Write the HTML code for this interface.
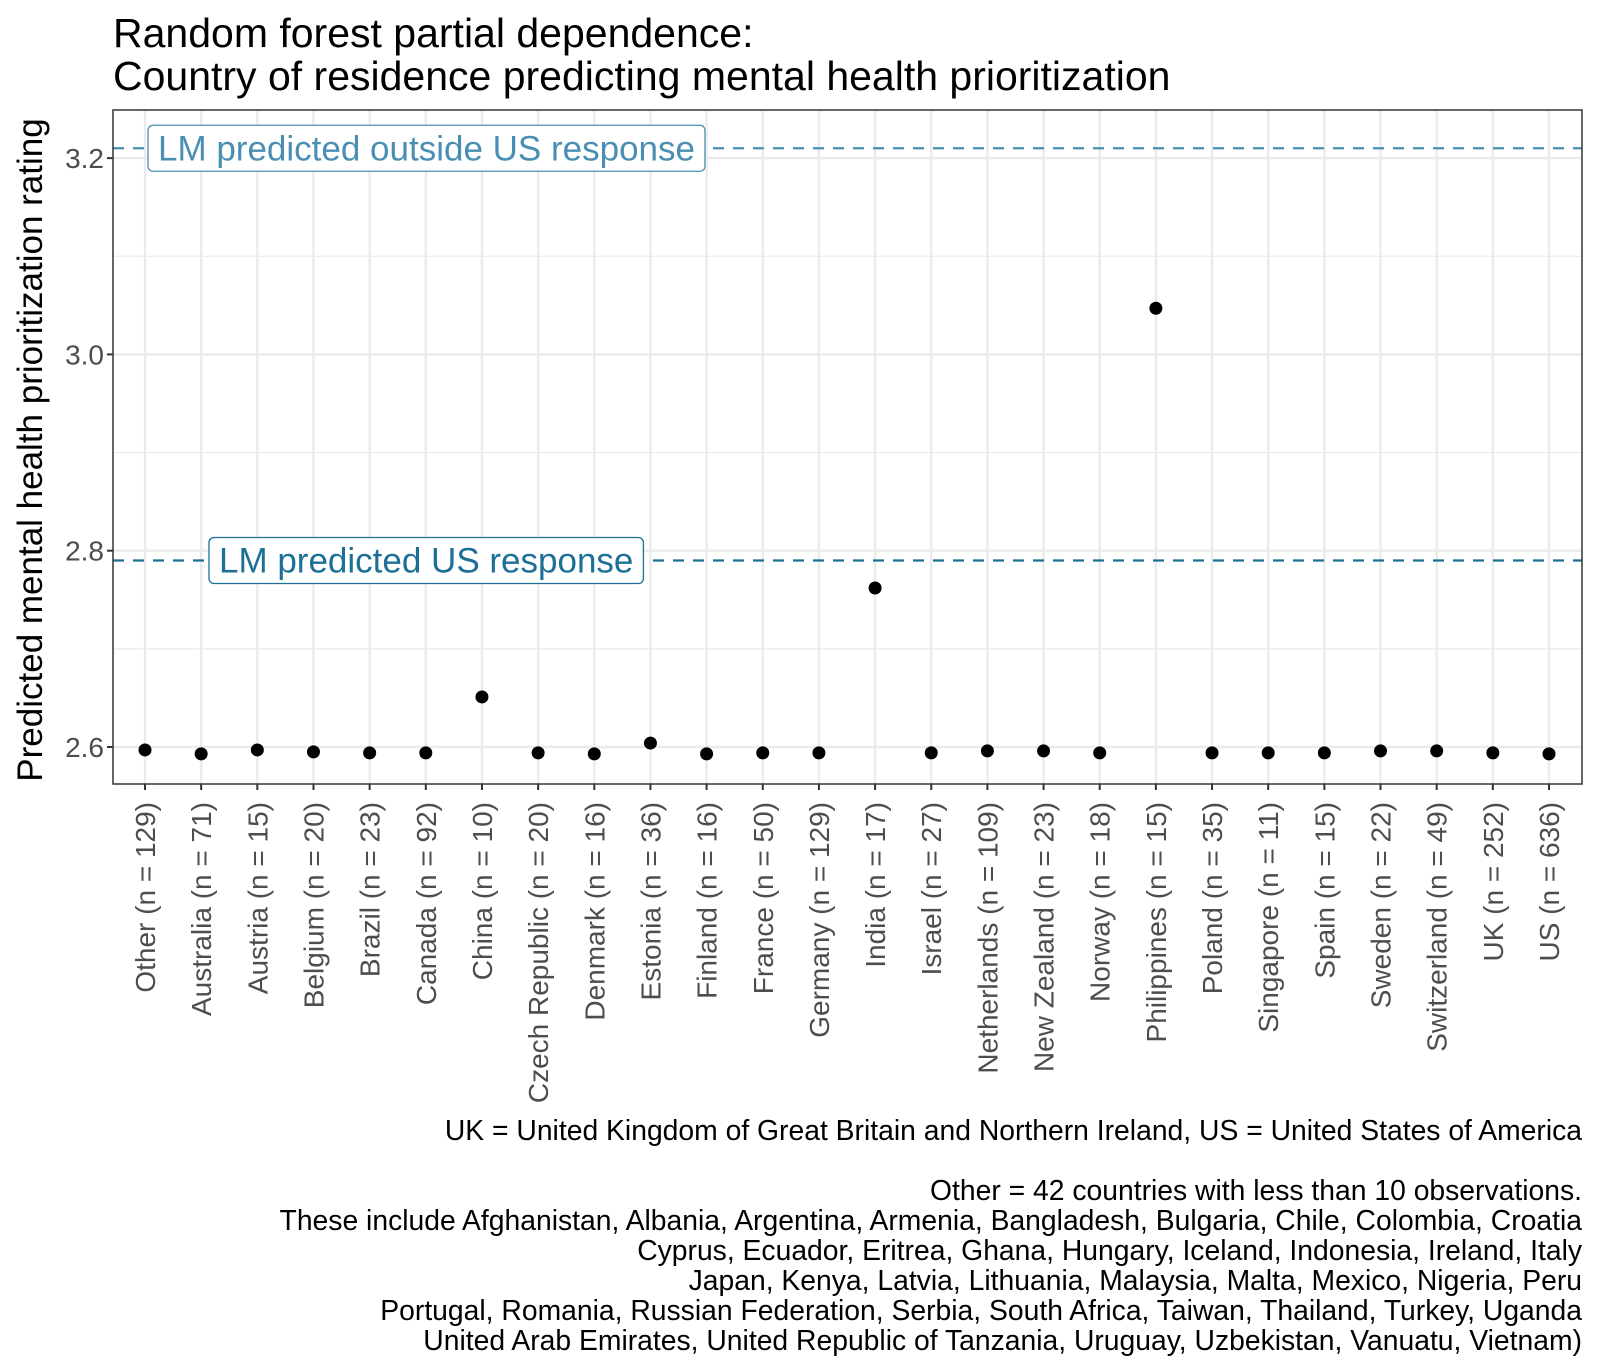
<!DOCTYPE html>
<html><head><meta charset="utf-8"><style>
body{margin:0;background:#fff}
svg{display:block;font-family:"Liberation Sans",sans-serif}
</style></head><body>
<svg id="chart" width="1600" height="1371">
<text x="113" y="47" font-size="41" fill="#000">Random forest partial dependence:</text>
<text x="113" y="90" font-size="41" fill="#000">Country of residence predicting mental health prioritization</text>
<g id="plot"></g>
<text transform="translate(42,450) rotate(-90)" text-anchor="middle" font-size="35" fill="#000">Predicted mental health prioritization rating</text>
<g font-size="28.3" fill="#000" text-anchor="end">
<text x="1582" y="1140">UK = United Kingdom of Great Britain and Northern Ireland, US = United States of America</text>
<text x="1582" y="1200">Other = 42 countries with less than 10 observations.</text>
<text x="1582" y="1230">These include Afghanistan, Albania, Argentina, Armenia, Bangladesh, Bulgaria, Chile, Colombia, Croatia</text>
<text x="1582" y="1260">Cyprus, Ecuador, Eritrea, Ghana, Hungary, Iceland, Indonesia, Ireland, Italy</text>
<text x="1582" y="1290">Japan, Kenya, Latvia, Lithuania, Malaysia, Malta, Mexico, Nigeria, Peru</text>
<text x="1582" y="1320">Portugal, Romania, Russian Federation, Serbia, South Africa, Taiwan, Thailand, Turkey, Uganda</text>
<text x="1582" y="1350">United Arab Emirates, United Republic of Tanzania, Uruguay, Uzbekistan, Vanuatu, Vietnam)</text>
</g>
</svg>
<script>
const categories=["Other (n = 129)","Australia (n = 71)","Austria (n = 15)","Belgium (n = 20)","Brazil (n = 23)","Canada (n = 92)","China (n = 10)","Czech Republic (n = 20)","Denmark (n = 16)","Estonia (n = 36)","Finland (n = 16)","France (n = 50)","Germany (n = 129)","India (n = 17)","Israel (n = 27)","Netherlands (n = 109)","New Zealand (n = 23)","Norway (n = 18)","Philippines (n = 15)","Poland (n = 35)","Singapore (n = 11)","Spain (n = 15)","Sweden (n = 22)","Switzerland (n = 49)","UK (n = 252)","US (n = 636)"];
const values=[2.597,2.593,2.597,2.595,2.594,2.594,2.651,2.594,2.593,2.604,2.593,2.594,2.594,2.762,2.594,2.596,2.596,2.594,3.047,2.594,2.594,2.594,2.596,2.596,2.594,2.593];
const yTicks=[2.6,2.8,3.0,3.2];
const yMinor=[2.7,2.9,3.1];
const refValues=[3.21,2.79];
const refLabels=["LM predicted outside US response","LM predicted US response"];
const refColors=["#4a8fb3","#1c6f96"];
const refLabelX=[148,209];

const NS="http://www.w3.org/2000/svg";
const L=113,R=1582,T=110,B=784;
const x0=145,x1=1549;
const X=i=>x0+(x1-x0)*i/(categories.length-1);
const Y=v=>747-(v-2.6)/0.2*196.3;
const g=document.getElementById('plot');
function mk(tag,attrs,parent){const e=document.createElementNS(NS,tag);for(const k in attrs)e.setAttribute(k,attrs[k]);(parent||g).appendChild(e);return e;}

yMinor.forEach(v=>{const e=mk('line',{x1:L,x2:R,y1:Y(v),y2:Y(v),stroke:'#ebebeb','stroke-width':1.2});

});
yTicks.forEach(v=>{const e=mk('line',{x1:L,x2:R,y1:Y(v),y2:Y(v),stroke:'#ebebeb','stroke-width':2.4});

});
categories.forEach((c,i)=>{const e=mk('line',{x1:X(i),x2:X(i),y1:T,y2:B,stroke:'#ebebeb','stroke-width':2.4});

});

refValues.forEach((v,i)=>{
 const ln=mk('line',{x1:L,x2:R,y1:Y(v),y2:Y(v),stroke:refColors[i],'stroke-width':2.2,'stroke-dasharray':'11,9'});
 
 
 const t=mk('text',{x:refLabelX[i]+10,y:Y(v)+12,'font-size':35,fill:refColors[i]});
 t.textContent=refLabels[i];
 const bb=t.getBBox();
 const r=mk('rect',{x:refLabelX[i],y:Y(v)-23,width:bb.width+20,height:46,rx:5,fill:'#fff',stroke:refColors[i],'stroke-width':1.3});
 
 
 g.appendChild(t);
 
 
});

values.forEach((v,i)=>{const p=mk('circle',{cx:X(i),cy:Y(v),r:6.5,fill:'#000'});

});

const fr=mk('rect',{x:L,y:T,width:R-L,height:B-T,fill:'none',stroke:'#333','stroke-width':1.5});



yTicks.forEach(v=>{
 const tk=mk('line',{x1:L-6,x2:L,y1:Y(v),y2:Y(v),stroke:'#333','stroke-width':2});
 
 
 const t=mk('text',{x:L-9,y:Y(v)+10,'font-size':28,fill:'#4d4d4d','text-anchor':'end'});
 t.textContent=v.toFixed(1);
 
 
});
categories.forEach((c,i)=>{
 const tk=mk('line',{x1:X(i),x2:X(i),y1:B,y2:B+6,stroke:'#333','stroke-width':2});
 
 
 const t=mk('text',{transform:`translate(${X(i)+10},${B+18}) rotate(-90)`,'font-size':28,fill:'#4d4d4d','text-anchor':'end'});
 t.textContent=c;
 
 
});
</script>
</body></html>
